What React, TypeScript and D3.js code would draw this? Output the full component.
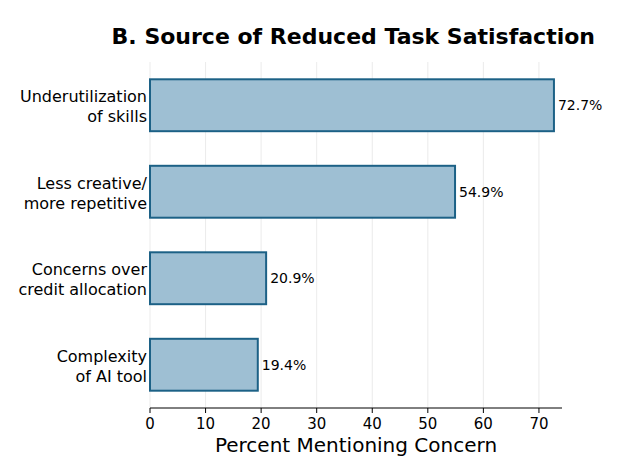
import * as d3 from 'd3';

const categories = [['Underutilization', 'of skills'], ['Less creative/', 'more repetitive'], ['Concerns over', 'credit allocation'], ['Complexity', 'of AI tool']];
const values = [72.7, 54.9, 20.9, 19.4];
const ticks = [0, 10, 20, 30, 40, 50, 60, 70];

const W = 622, H = 475;
const left = 150, right = 562, top = 62, bottom = 408;

export default function App() {
    const x = d3.scaleLinear().domain([0, 74.15]).range([left, right]);
    const y = d3.scaleBand().domain(categories.map((c) => c.join(' '))).range([top, bottom]).paddingInner(0.4).paddingOuter(0.2);
    const font = 'DejaVu Sans, sans-serif';
    return (
        <svg width={W} height={H} style={{ position: 'absolute', left: 0, top: 0 }} fontFamily={font}>
            <rect width={W} height={H} fill="#fff" />
            <text x={595} y={44} textAnchor="end" fontSize={22} fontWeight="bold">B. Source of Reduced Task Satisfaction</text>
            {ticks.map((t) => (
                <g key={t}>
                    <line x1={x(t)} x2={x(t)} y1={top} y2={bottom} stroke="#e6e6e6" strokeWidth={0.8} />
                    <line x1={x(t)} x2={x(t)} y1={bottom} y2={bottom + 5} stroke="#000" />
                    <text x={x(t)} y={bottom + 21} textAnchor="middle" fontSize={15}>{t}</text>
                </g>
            ))}
            {categories.map((c, i) => {
                const key = c.join(' ');
                const yy = y(key)!;
                const cy = yy + y.bandwidth() / 2;
                return (
                    <g key={key}>
                        <rect x={x(0)} y={yy} width={x(values[i]) - x(0)} height={y.bandwidth()} fill="#9ebfd3" stroke="#1c6186" strokeWidth={2} />
                        <text x={x(values[i]) + 4} y={cy + 5} fontSize={14}>{values[i].toFixed(1)}%</text>
                        <text x={left - 3} y={cy - 3} textAnchor="end" fontSize={16}>{c[0]}</text>
                        <text x={left - 3} y={cy + 17} textAnchor="end" fontSize={16}>{c[1]}</text>
                    </g>
                );
            })}
            <line x1={left} x2={right} y1={bottom} y2={bottom} stroke="#000" />
            <text x={(left + right) / 2} y={452} textAnchor="middle" fontSize={20}>Percent Mentioning Concern</text>
        </svg>
    );
}
